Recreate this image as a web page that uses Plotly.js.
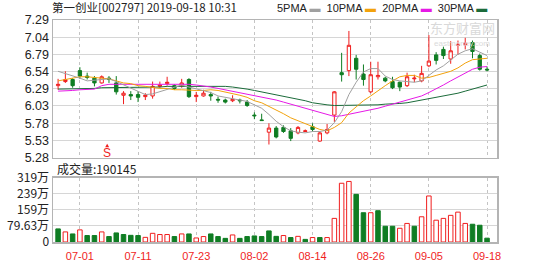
<!DOCTYPE html>
<html>
<head>
<meta charset="utf-8">
<script src="https://cdn.plot.ly/plotly-3.0.1.min.js"></script>
<style>html,body{margin:0;padding:0;background:#fff;}#chart{width:549px;height:262px;}</style>
</head>
<body>
<div id="chart"></div>
<script>
const dates = ['2019-06-26','2019-06-27','2019-06-28','2019-07-01','2019-07-02','2019-07-03','2019-07-04','2019-07-05','2019-07-08','2019-07-09','2019-07-10','2019-07-11','2019-07-12','2019-07-15','2019-07-16','2019-07-17','2019-07-18','2019-07-19','2019-07-22','2019-07-23','2019-07-24','2019-07-25','2019-07-26','2019-07-29','2019-07-30','2019-07-31','2019-08-01','2019-08-02','2019-08-05','2019-08-06','2019-08-07','2019-08-08','2019-08-09','2019-08-12','2019-08-13','2019-08-14','2019-08-15','2019-08-16','2019-08-19','2019-08-20','2019-08-21','2019-08-22','2019-08-23','2019-08-26','2019-08-27','2019-08-28','2019-08-29','2019-08-30','2019-09-02','2019-09-03','2019-09-04','2019-09-05','2019-09-06','2019-09-09','2019-09-10','2019-09-11','2019-09-12','2019-09-16','2019-09-17','2019-09-18'];

const openP  = [6.33,6.39,6.42,6.55,6.47,6.44,6.37,6.44,6.37,6.19, 6.20,6.20,6.17,6.18,6.32,6.36,6.33,6.33,6.42,6.17, 6.18,6.20,6.13,6.12,6.11,6.12,6.09,5.90,5.83,5.65, 5.71,5.72,5.67,5.64,5.66,5.73,5.52,5.64,5.90,6.52, 6.55,6.73,6.50,6.24,6.46,6.44,6.39,6.38,6.33,6.43, 6.40,6.62,6.78,6.86,6.72,6.92,6.93,6.96,6.77,6.57];
const highP  = [6.43,6.54,6.44,6.60,6.52,6.47,6.48,6.47,6.47,6.25, 6.25,6.25,6.22,6.39,6.39,6.46,6.35,6.43,6.44,6.24, 6.27,6.24,6.17,6.14,6.19,6.14,6.12,5.94,5.92,5.78, 5.74,5.75,5.71,5.74,5.69,5.78,5.66,5.77,6.25,6.81, 7.13,6.78,6.64,6.68,6.68,6.46,6.46,6.39,6.52,6.49, 6.62,7.07,6.82,6.90,6.98,6.99,7.03,6.99,6.80,6.61];
const lowP   = [6.27,6.37,6.30,6.43,6.42,6.32,6.36,6.37,6.20,6.06, 6.12,6.09,6.12,6.14,6.30,6.33,6.27,6.30,6.15,6.09, 6.17,6.11,6.08,6.07,6.09,6.07,6.02,5.84,5.82,5.47, 5.56,5.64,5.52,5.62,5.65,5.66,5.51,5.62,5.80,6.39, 6.47,6.42,6.33,6.22,6.42,6.38,6.28,6.25,6.31,6.38, 6.38,6.60,6.64,6.72,6.65,6.78,6.86,6.73,6.55,6.54];
const closeP = [6.35,6.42,6.33,6.47,6.45,6.37,6.46,6.42,6.24,6.22, 6.18,6.16,6.19,6.32,6.34,6.38,6.29,6.37,6.17,6.19, 6.22,6.18,6.12,6.09,6.13,6.11,6.04,5.89,5.82,5.71, 5.58,5.66,5.56,5.72,5.67,5.69,5.64,5.69,6.24,6.49, 6.92,6.57,6.42,6.49,6.48,6.40,6.30,6.31,6.46,6.44, 6.51,6.69,6.70,6.77,6.84,6.93,6.95,6.83,6.57,6.56];
const prevClose = 6.38; // close of 2019-06-25

const ma5  = [6.54,6.51,6.47,6.44,6.40,6.41,6.42,6.43,6.39,6.34, 6.30,6.24,6.20,6.21,6.24,6.28,6.30,6.34,6.31,6.28, 6.25,6.23,6.18,6.16,6.15,6.13,6.10,6.05,6.00,5.91, 5.81,5.73,5.67,5.65,5.64,5.66,5.66,5.68,5.79,5.95, 6.20,6.38,6.53,6.58,6.58,6.47,6.42,6.40,6.39,6.38, 6.40,6.48,6.56,6.62,6.70,6.79,6.84,6.87,6.82,6.77];
const ma10 = [6.40,6.42,6.44,6.46,6.46,6.45,6.45,6.43,6.40,6.37, 6.36,6.33,6.32,6.30,6.29,6.29,6.27,6.27,6.26,6.26, 6.26,6.27,6.26,6.24,6.21,6.19,6.16,6.11,6.08,6.03, 5.97,5.92,5.86,5.82,5.78,5.73,5.69,5.67,5.72,5.79, 5.93,6.02,6.11,6.18,6.26,6.33,6.40,6.46,6.48,6.48, 6.44,6.45,6.48,6.51,6.54,6.59,6.66,6.71,6.72,6.73];
const ma20 = [6.25,6.25,6.26,6.27,6.27,6.28,6.33,6.35,6.35,6.35, 6.35,6.35,6.35,6.35,6.36,6.36,6.36,6.36,6.35,6.34, 6.33,6.31,6.29,6.27,6.25,6.23,6.21,6.19,6.17,6.14, 6.12,6.09,6.06,6.03,6.00,5.97,5.94,5.91,5.88,5.89, 5.91,5.93,5.95,5.97,6.00,6.03,6.06,6.08,6.11,6.14, 6.18,6.23,6.28,6.34,6.40,6.46,6.52,6.57,6.60,6.61];
const ma30 = [6.28,6.28,6.28,6.28,6.29,6.29,6.30,6.30,6.31,6.31, 6.31,6.31,6.31,6.31,6.31,6.32,6.32,6.32,6.33,6.33, 6.33,6.33,6.33,6.32,6.31,6.30,6.28,6.26,6.24,6.22, 6.19,6.17,6.15,6.13,6.11,6.08,6.06,6.05,6.04,6.04, 6.05,6.05,6.05,6.05,6.05,6.06,6.06,6.07,6.08,6.10, 6.11,6.13,6.15,6.17,6.20,6.22,6.25,6.28,6.31,6.34];

// volume in 万 shares
const volume = [65,50,40,60,32,32,50,27,45,37, 33,32,23,43,37,37,27,40,40,20, 27,40,27,18,35,18,27,30,27,55, 28,32,22,28,13,22,22,22,117,291, 300,236,145,145,155,78,78,68,92,78, 125,228,108,117,132,148,92,88,83,19];
const lastVolume = '190145';

const xTickLabels = ['07-01','07-11','07-23','08-02','08-14','08-26','09-05','09-18'];
const priceTickLabels = ['5.28','5.53','5.78','6.03','6.29','6.54','6.79','7.04','7.29'];
const volTickLabels = ['0','79.63万','159万','239万','319万'];
const priceMin = 5.28, priceMax = 7.29, volMax = 318.5;

const RED = '#f01e1e', GREEN = '#0f7d23';
const xTickVals = xTickLabels.map(l => '2019-' + l);
const priceTickVals = priceTickLabels.map((_, i) => priceMin + (priceMax - priceMin) * i / (priceTickLabels.length - 1));
const volTickVals = volTickLabels.map((_, i) => volMax * i / (volTickLabels.length - 1));

const volUp = closeP.map((c, i) => c >= (i === 0 ? prevClose : closeP[i - 1]));
const volFill = volUp.map(u => u ? '#ffffff' : GREEN);
const volLine = volUp.map(u => u ? RED : GREEN);

const FONT = 'Liberation Sans, Arial, Noto Sans CJK SC, sans-serif';
const CJK = 'Noto Sans CJK SC, Liberation Sans, sans-serif';

function maTrace(y, color) {
  return {type: 'scatter', mode: 'lines', x: dates, y: y, xaxis: 'x', yaxis: 'y',
          line: {color: color, width: 1}, hoverinfo: 'skip', showlegend: false};
}

const traces = [
  maTrace(ma30, '#1b6b3a'),
  maTrace(ma20, '#e619e6'),
  maTrace(ma10, '#f2a20c'),
  maTrace(ma5, '#a0a0a0'),
  {type: 'candlestick', x: dates, open: openP, high: highP, low: lowP, close: closeP,
   xaxis: 'x', yaxis: 'y', showlegend: false, whiskerwidth: 0,
   increasing: {line: {color: RED, width: 1}, fillcolor: '#ffffff'},
   decreasing: {line: {color: GREEN, width: 1}, fillcolor: GREEN}},
  {type: 'bar', x: dates, y: volume, xaxis: 'x2', yaxis: 'y2', width: 0.62, showlegend: false,
   marker: {color: volFill, line: {color: volLine, width: 1}}}
];

const xRange = [-0.7, dates.length - 1 + 1.37];
const gridCommon = {gridcolor: '#d6d6d6', showline: true, mirror: true, linecolor: '#b4b4b4', linewidth: 1.5, zeroline: false, fixedrange: true};

const layout = {
  width: 549, height: 262,
  margin: {l: 53, r: 52, t: 20, b: 20},
  paper_bgcolor: '#ffffff', plot_bgcolor: '#ffffff',
  boxgap: 0.35,
  showlegend: false,
  title: {text: '第一创业[002797] 2019-09-18 10:31', x: 52 / 549, xanchor: 'left', xref: 'container',
          y: 1 - 8 / 262, yanchor: 'middle', yref: 'container',
          font: {family: CJK, size: 11.5, color: '#222'}},
  xaxis: Object.assign({}, gridCommon, {type: 'category', domain: [0, 1], anchor: 'y', range: xRange,
    tickmode: 'array', tickvals: xTickVals, showticklabels: false, ticks: '',
    gridcolor: '#c4c4c4', griddash: '3px,3px', rangeslider: {visible: false}}),
  yaxis: Object.assign({}, gridCommon, {domain: [0.3806, 1], anchor: 'x', range: [priceMin, priceMax],
    tickmode: 'array', tickvals: priceTickVals, ticktext: priceTickLabels, ticks: '',
    tickfont: {family: FONT, size: 12.5, color: '#222'}}),
  xaxis2: Object.assign({}, gridCommon, {type: 'category', domain: [0, 1], anchor: 'y2', range: xRange,
    tickmode: 'array', tickvals: xTickVals, ticktext: xTickLabels, ticks: 'outside', ticklen: 3, tickcolor: 'rgba(0,0,0,0)',
    gridcolor: '#c4c4c4', griddash: '3px,3px',
    tickfont: {family: FONT, size: 11, color: RED}}),
  yaxis2: Object.assign({}, gridCommon, {domain: [0, 0.2896], anchor: 'x2', range: [0, volMax],
    tickmode: 'array', tickvals: volTickVals, ticktext: volTickLabels, ticks: '',
    tickfont: {family: CJK, size: 12, color: '#222'}}),
  shapes: [
    {type: 'path', xref: 'x', yref: 'y', xsizemode: 'pixel', ysizemode: 'pixel', xanchor: 6.75, yanchor: 5.43,
     path: 'M -2 0 L 2 0 L 0 3.5 Z', fillcolor: RED, line: {width: 0}}
  ],
  annotations: [
    {xref: 'paper', yref: 'paper', x: 1.0 - 8 / 444, y: (242 - 8) / 222, xanchor: 'right', yanchor: 'middle', showarrow: false,
     text: '5PMA <span style="color:#a0a0a0">▬</span>  10PMA <span style="color:#f2a20c">▬</span>  20PMA <span style="color:#e619e6">▬</span>  30PMA <span style="color:#1b6b3a">▬</span>',
     font: {family: FONT, size: 11, color: '#222'}},
    {xref: 'paper', yref: 'paper', x: 0.005, y: (242 - 168) / 222, xanchor: 'left', yanchor: 'middle', showarrow: false,
     text: '成交量:' + lastVolume, font: {family: CJK, size: 12, color: '#222'}},
    {xref: 'paper', yref: 'paper', x: (462 - 53) / 444, y: (242 - 27) / 222, xanchor: 'center', yanchor: 'middle', showarrow: false,
     text: '东方财富网', font: {family: CJK, size: 13, color: '#d9d9d9'}},
    {xref: 'paper', yref: 'paper', x: (462 - 53) / 444, y: (242 - 43) / 222, xanchor: 'center', yanchor: 'middle', showarrow: false,
     text: 'eastmoney.com', font: {family: FONT, size: 8, color: '#dadada'}},
    {xref: 'x', yref: 'y', x: 6.75, y: 5.35, xanchor: 'center', yanchor: 'middle', showarrow: false,
     text: 'S', font: {family: FONT, size: 12, color: RED}}
  ]
};

Plotly.newPlot('chart', traces, layout, {staticPlot: true, displayModeBar: false});
</script>
</body>
</html>
